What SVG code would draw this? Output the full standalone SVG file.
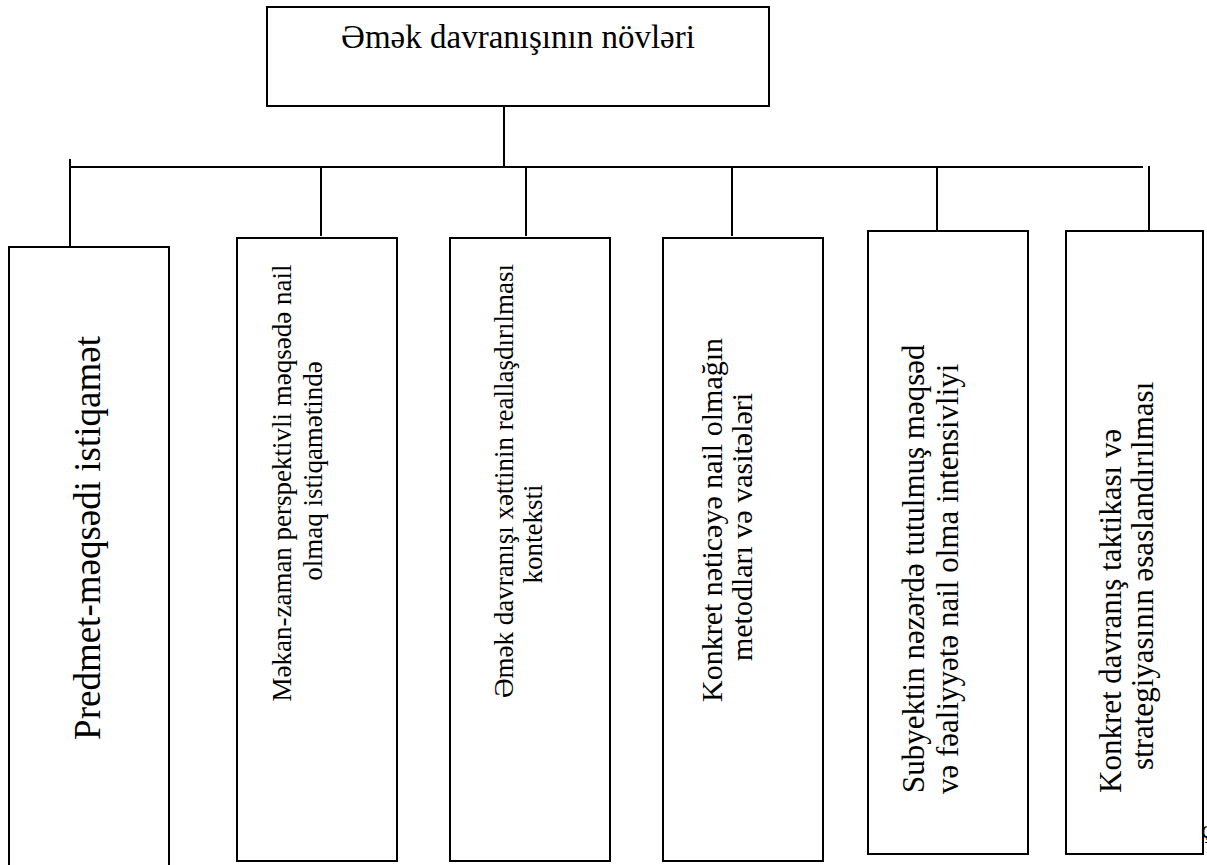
<svg xmlns="http://www.w3.org/2000/svg" width="1207" height="865" viewBox="0 0 1207 865">
<style>
.box{fill:#fff;stroke:#000;stroke-width:2}
.ln{stroke:#000;stroke-width:2;fill:none}
.t{font-family:'Liberation Serif','DejaVu Serif','Times New Roman',serif;fill:#000}
</style>
<rect width="1207" height="865" fill="#fff"/>
<g id="connectors">
<line class="ln" x1="504" y1="106" x2="504" y2="167"/>
<line class="ln" x1="70" y1="167" x2="1143" y2="167"/>
<line class="ln" x1="70" y1="159" x2="70" y2="250"/>
<line class="ln" x1="321" y1="167" x2="321" y2="236"/>
<line class="ln" x1="526" y1="167" x2="526" y2="236"/>
<line class="ln" x1="732" y1="167" x2="732" y2="236"/>
<line class="ln" x1="937" y1="167" x2="937" y2="236"/>
<line class="ln" x1="1149" y1="166" x2="1149" y2="236"/>
</g>
<g id="root">
<rect class="box" x="267" y="7" width="502" height="99"/>
<text class="t" x="518" y="48" font-size="33" text-anchor="middle">Əmək davranışının növləri</text>
</g>
<g id="n1">
<rect class="box" x="9" y="247" width="160" height="630"/>
<text class="t" transform="translate(100,538) rotate(-90)" font-size="37" text-anchor="middle">Predmet-məqsədi istiqamət</text>
</g>
<g id="n2">
<rect class="box" x="237" y="238" width="160" height="623"/>
<text class="t" transform="translate(291,483) rotate(-90)" font-size="27" text-anchor="middle">Məkan-zaman perspektivli məqsədə nail</text>
<text class="t" transform="translate(322,471) rotate(-90)" font-size="27" text-anchor="middle">olmaq istiqamətində</text>
</g>
<g id="n3">
<rect class="box" x="450" y="238" width="160" height="623"/>
<text class="t" transform="translate(513,481) rotate(-90)" font-size="27" text-anchor="middle">Əmək davranışı xəttinin reallaşdırılması</text>
<text class="t" transform="translate(542,534) rotate(-90)" font-size="27" text-anchor="middle">konteksti</text>
</g>
<g id="n4">
<rect class="box" x="663" y="238" width="160" height="623"/>
<text class="t" transform="translate(722,520) rotate(-90)" font-size="30" text-anchor="middle">Konkret nəticəyə nail olmağın</text>
<text class="t" transform="translate(752,527) rotate(-90)" font-size="30" text-anchor="middle">metodları və vasitələri</text>
</g>
<g id="n5">
<rect class="box" x="868" y="231" width="160" height="623"/>
<text class="t" transform="translate(924,793) rotate(-90)" font-size="31">Subyektin nəzərdə tutulmuş məqsəd</text>
<text class="t" transform="translate(958,794) rotate(-90)" font-size="31">və fəaliyyətə nail olma intensivliyi</text>
</g>
<g id="n6">
<rect class="box" x="1066" y="231" width="137" height="623"/>
<text class="t" transform="translate(1121,793) rotate(-90)" font-size="31">Konkret davranış taktikası və</text>
<text class="t" transform="translate(1153,770) rotate(-90)" font-size="31">strategiyasının əsaslandırılması</text>
</g>
<text class="t" x="1201" y="838" font-size="26">ç</text>
</svg>
